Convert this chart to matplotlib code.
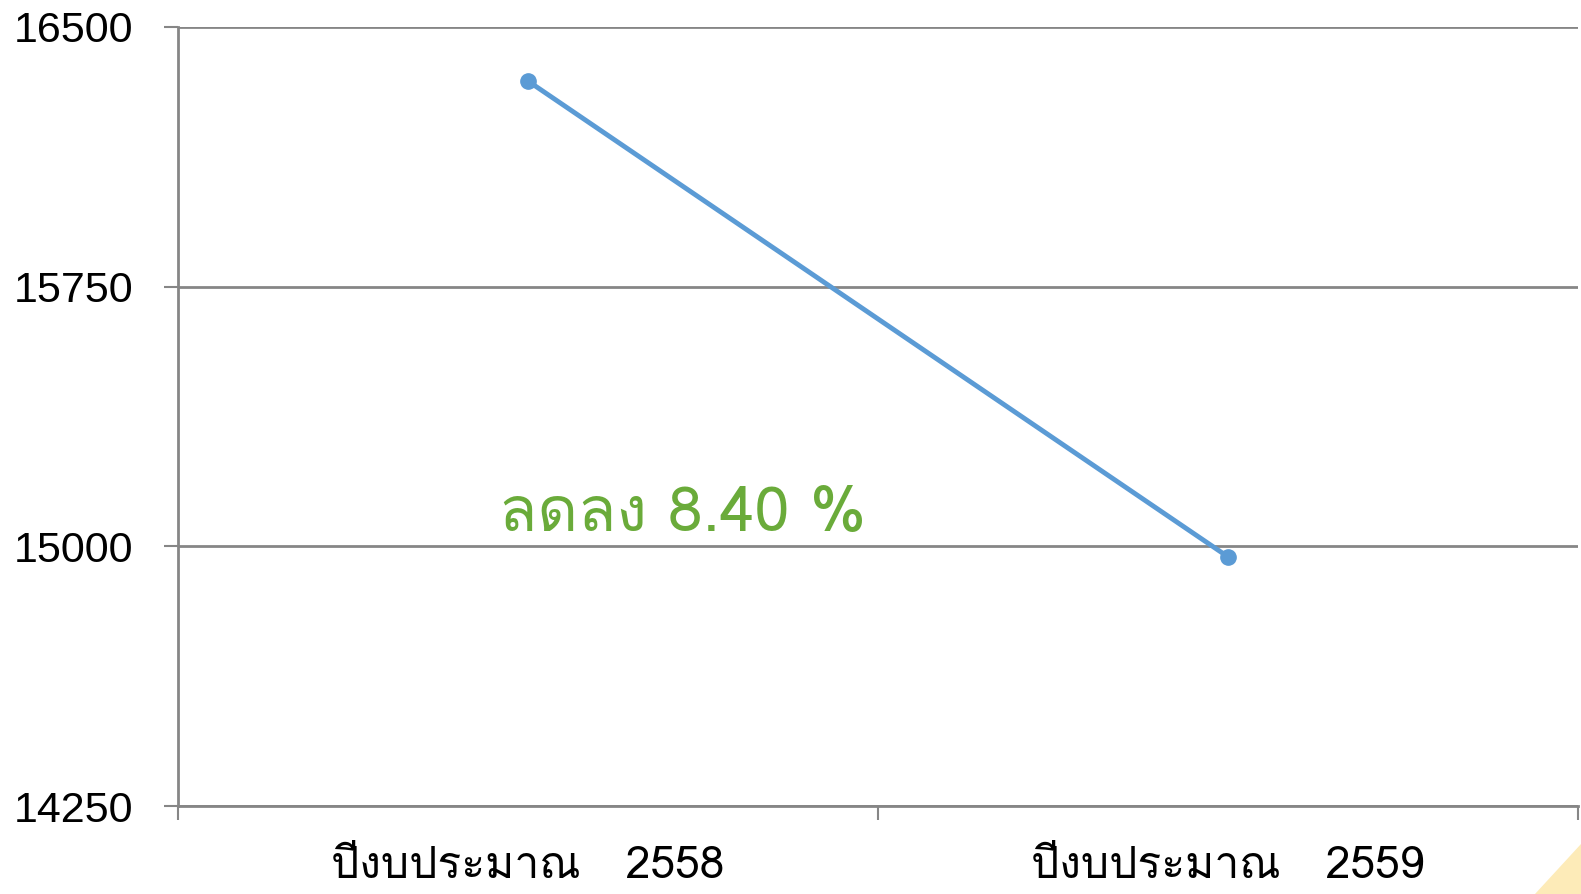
import matplotlib
matplotlib.use("Agg")
import matplotlib.pyplot as plt
from matplotlib import font_manager
from matplotlib.ft2font import FT2Font
from matplotlib.patches import Polygon

categories = ["ปีงบประมาณ   2558", "ปีงบประมาณ   2559"]
values = [16344, 14970]
yticks = [14250, 15000, 15750, 16500]
note = "ลดลง 8.40 %"


def thai_font():
    # find any installed font that has Thai glyphs
    names = []
    for f in font_manager.fontManager.ttflist:
        try:
            ft = FT2Font(f.fname)
            if ord("ป") in ft.get_charmap():
                names.append(f.name)
        except Exception:
            pass
    return names[0] if names else None


tf = thai_font()
fam = [tf, "Liberation Sans", "DejaVu Sans"] if tf else ["Liberation Sans", "DejaVu Sans"]
plt.rcParams["font.family"] = fam

fig = plt.figure(figsize=(15.81, 8.94), dpi=100)
ax = fig.add_axes([0.1126, 0.0984, 0.8854, 0.8714])

x = [0.5, 1.5]
ax.plot(x, values, color="#5B9BD5", lw=3.5, marker="o", markersize=11, zorder=3)

ax.set_xlim(0, 2)
ax.set_ylim(14250, 16500)
ax.set_yticks(yticks)
ax.set_yticklabels([str(v) for v in yticks], fontsize=31, family=["Liberation Sans", "DejaVu Sans"])
ax.set_xticks([0, 1, 2])
ax.set_xticklabels([])
ax.set_xticks(x, minor=True)
ax.set_xticklabels(categories, minor=True, fontsize=32)
ax.tick_params(axis="x", which="minor", length=0, pad=29)
ax.tick_params(axis="x", which="major", length=10, width=1.5, color="#868686")
ax.tick_params(axis="y", length=10, width=1.5, color="#868686", pad=22)

ax.yaxis.grid(True, color="#868686", lw=2)
ax.set_axisbelow(True)
for s in ["top", "right"]:
    ax.spines[s].set_visible(False)
ax.spines["left"].set_color("#868686")
ax.spines["left"].set_linewidth(2)
ax.spines["bottom"].set_color("#868686")
ax.spines["bottom"].set_linewidth(2)

ax.text(0.72, 15045, note, color="#6AAB3A", fontsize=45, ha="center", va="baseline")

fig.patches.append(Polygon([[1535 / 1581, 0], [1, 0], [1, 50 / 894]], closed=True,
                           transform=fig.transFigure, facecolor="#FDEBB8", edgecolor="none"))

fig.savefig("out.png", dpi=100)
